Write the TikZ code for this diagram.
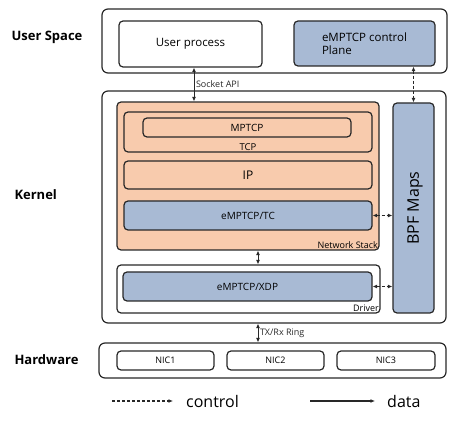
\documentclass[tikz,border=0pt]{standalone}
\usepackage{fontspec}
\setmainfont{Open Sans}
\usetikzlibrary{arrows.meta,positioning}

\definecolor{stackorange}{RGB}{248,203,173}
\definecolor{ebpfblue}{RGB}{168,186,212}
\definecolor{edgegray}{RGB}{40,40,40}

\begin{document}
\begin{tikzpicture}[x=1pt,y=-1pt,
    layer/.style={draw=edgegray, line width=1.2pt, rounded corners=6pt, inner sep=0pt},
    block/.style={draw=edgegray, line width=1.2pt, rounded corners=4pt, inner sep=0pt, align=center,
        font=\fontsize{10}{12}\selectfont},
    bluebox/.style={block, fill=ebpfblue},
    tag/.style={font=\fontsize{9}{11}\selectfont, inner sep=1.5pt},
    side/.style={font=\fontsize{13}{15}\selectfont\bfseries, anchor=west},
    tip/.tip={Latex[length=4.5pt,width=4pt]},
    datalink/.style={edgegray, line width=1pt, tip-tip},
    ctrllink/.style={edgegray, line width=1pt, dash pattern=on 3pt off 2pt, tip-tip},
    legend/.style={font=\fontsize{16}{18}\selectfont, anchor=west, inner sep=0pt}
]
    \useasboundingbox (0,0) rectangle (464,425);
    % User space
    \node[layer, minimum width=345, minimum height=64] (userspace) at (274.5,41) {};
    \node[block, minimum width=143, minimum height=46, font=\fontsize{11.5}{13}\selectfont] (userproc) at (190.5,44) {User process};
    \node[bluebox, minimum width=141, minimum height=45, align=left, font=\fontsize{11.5}{13}\selectfont] (ctrlplane) at (364.5,43.5) {eMPTCP control\\Plane};
    % Kernel
    \node[layer, minimum width=344, minimum height=232] (kernel) at (274,207) {};
    \node[block, fill=stackorange, minimum width=262, minimum height=148] (netstack) at (248,176) {};
    \node[tag, anchor=south east] at (netstack.south east) {Network Stack};
    \node[block, minimum width=248, minimum height=40] (tcp) at (248,132) {};
    \node[tag, anchor=south, font=\fontsize{9.5}{11}\selectfont] at (tcp.south) {TCP};
    \node[block, minimum width=208, minimum height=19] (mptcp) at (247,127.5) {MPTCP};
    \node[block, minimum width=248, minimum height=28, font=\fontsize{12}{14}\selectfont] (ip) at (248,175) {IP};
    \node[bluebox, minimum width=248, minimum height=29] (tc) at (248,215.5) {eMPTCP/TC};
    \node[block, minimum width=263, minimum height=48] (driver) at (248.5,289) {};
    \node[tag, anchor=south east] at (driver.south east) {Driver};
    \node[bluebox, minimum width=249, minimum height=29] (xdp) at (247.5,286.5) {eMPTCP/XDP};
    \node[bluebox, minimum width=41, minimum height=210] (bpf) at (413.5,208) {};
    \node[rotate=90, font=\fontsize{16}{18}\selectfont] at ([xshift=1.5pt]bpf.center) {BPF Maps};
    % Hardware
    \node[layer, minimum width=347, minimum height=35] (hardware) at (272.5,360.5) {};
    \node[block, minimum width=97, minimum height=19, font=\fontsize{9}{11}\selectfont] (nic1) at (165.5,360.5) {NIC1};
    \node[block, minimum width=97, minimum height=19, font=\fontsize{9}{11}\selectfont] (nic2) at (275.5,360.5) {NIC2};
    \node[block, minimum width=98, minimum height=19, font=\fontsize{9}{11}\selectfont] (nic3) at (386,360.5) {NIC3};
    % side titles
    \node[side] (usertitle) at (8,37) {User Space};
    \node[side] (kerneltitle) at (11,195) {Kernel};
    \node[side] (hwtitle) at (11,360) {Hardware};
    % data paths
    \draw[datalink] ([xshift=3.5pt]userproc.south) -- ([xshift=3.5pt]userproc.south |- netstack.north)
        node[tag, right, pos=0.5] {Socket API};
    \draw[datalink] ([xshift=10pt]netstack.south) -- ([xshift=10pt]netstack.south |- driver.north);
    \draw[datalink] ([xshift=-16pt]kernel.south) -- ([xshift=-16pt]kernel.south |- hardware.north)
        node[tag, right, pos=0.5] {TX/Rx Ring};
    % control paths
    \draw[ctrllink] (ctrlplane.south -| bpf.north) -- (bpf.north);
    \draw[ctrllink] (tc.east) -- (tc.east -| bpf.west);
    \draw[ctrllink] (xdp.east) -- (xdp.east -| bpf.west);
    % legend
    \coordinate (ctrlfrom) at (112,401);
    \node[legend] (ctrllabel) at (186,401) {control};
    \draw[ctrllink, line width=1.2pt, -tip] (ctrlfrom) -- ([xshift=-13pt]ctrllabel.west);
    \coordinate (datafrom) at (310,401);
    \node[legend] (datalabel) at (387,401) {data};
    \draw[datalink, line width=1.2pt, -tip] (datafrom) -- ([xshift=-12pt]datalabel.west);
\end{tikzpicture}
\end{document}
